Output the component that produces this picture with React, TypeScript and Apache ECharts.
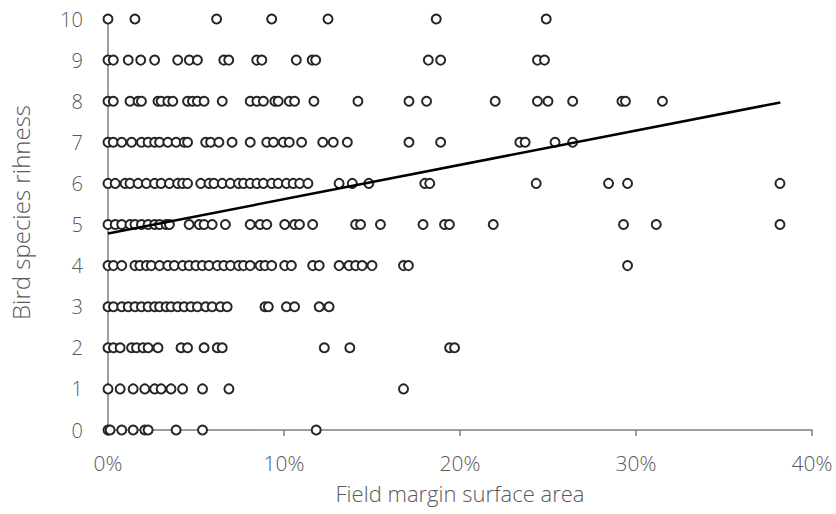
import React, { useEffect, useRef } from "react";
import * as echarts from "echarts";

// x values (% field margin surface area) for each species-richness level
const row10 = [0, 1.53, 6.17, 9.3, 12.5, 18.65, 24.9];
const row9 = [0, 0.3, 1.15, 1.86, 2.65, 3.96, 4.62, 5.08, 6.58, 6.86, 8.45, 8.74, 10.7, 11.6, 11.8, 18.2, 18.9, 24.4, 24.8];
const row8 = [0, 0.3, 1.25, 1.71, 1.9, 2.84, 3.02, 3.4, 3.68, 4.52, 4.8, 5.08, 5.46, 6.49, 8.08, 8.46, 8.83, 9.48, 9.67, 10.3, 10.6, 11.7, 14.2, 17.1, 18.1, 22.0, 24.4, 25.0, 26.4, 29.2, 29.4, 31.5];
const row7 = [0, 0.3, 0.78, 1.34, 1.9, 2.28, 2.65, 2.93, 3.4, 3.87, 4.33, 4.52, 5.55, 5.83, 6.3, 7.05, 8.08, 9.02, 9.4, 9.96, 10.3, 11.0, 12.2, 12.8, 13.6, 17.1, 18.9, 23.4, 23.7, 25.4, 26.4];
const row6 = [0, 0.41, 0.97, 1.25, 1.71, 2.18, 2.65, 3.02, 3.49, 3.96, 4.24, 4.52, 5.27, 5.74, 6.02, 6.49, 6.95, 7.42, 7.7, 8.08, 8.46, 8.83, 9.3, 9.67, 10.14, 10.52, 10.89, 11.36, 13.13, 13.88, 14.82, 18.0, 18.28, 24.33, 28.44, 29.52, 38.18];
const row5 = [0, 0.41, 0.78, 1.25, 1.53, 1.9, 2.28, 2.65, 2.93, 3.3, 3.49, 4.61, 5.18, 5.46, 5.92, 6.67, 8.08, 8.64, 9.02, 10.04, 10.6, 10.88, 11.63, 14.07, 14.35, 15.48, 17.9, 19.12, 19.4, 21.89, 29.29, 31.15, 38.18];
const row4 = [0, 0.31, 0.78, 1.53, 1.81, 2.18, 2.46, 2.93, 3.4, 3.77, 4.24, 4.61, 4.99, 5.36, 5.74, 6.21, 6.58, 6.96, 7.42, 7.7, 8.08, 8.64, 8.92, 9.3, 10.04, 10.42, 11.63, 12.0, 13.13, 13.69, 14.07, 14.44, 15.0, 16.79, 17.07, 29.52];
const row3 = [0, 0.31, 0.78, 1.15, 1.53, 1.9, 2.28, 2.65, 2.93, 3.3, 3.58, 3.96, 4.33, 4.71, 5.08, 5.55, 5.92, 6.39, 6.77, 8.92, 9.11, 10.14, 10.6, 12.0, 12.56];
const row2 = [0, 0.31, 0.69, 1.34, 1.62, 1.99, 2.28, 2.84, 4.15, 4.52, 5.46, 6.21, 6.49, 12.29, 13.74, 19.41, 19.69];
const row1 = [0, 0.69, 1.43, 2.09, 2.65, 3.02, 3.58, 4.24, 5.37, 6.87, 16.79];
const row0 = [0, 0.12, 0.78, 1.43, 2.09, 2.28, 3.87, 5.37, 11.83];

const rows: number[][] = [row0, row1, row2, row3, row4, row5, row6, row7, row8, row9, row10];

// linear trend line endpoints
const trendX = [0, 38.2];
const trendY = [4.78, 7.97];

const xTicks = [0, 10, 20, 30, 40];
const yTicks = [0, 1, 2, 3, 4, 5, 6, 7, 8, 9, 10];

const FONT = "'Open Sans', 'Noto Sans', sans-serif";
const LABEL_COLOR = "#595959";

export default function App() {
  const ref = useRef<HTMLDivElement>(null);
  useEffect(() => {
    document.body.style.margin = "0";
    if (!ref.current) return;
    const chart = echarts.init(ref.current, undefined, { renderer: "svg" });
    const points: number[][] = [];
    rows.forEach((xs, y) => xs.forEach((x) => points.push([x, y])));
    chart.setOption({
      animation: false,
      grid: { left: 100, right: 24, top: 19, bottom: 84, containLabel: false },
      xAxis: {
        type: "value",
        min: xTicks[0],
        max: xTicks[xTicks.length - 1],
        interval: 10,
        name: "Field margin surface area",
        nameLocation: "middle",
        nameGap: 52,
        nameTextStyle: { color: LABEL_COLOR, fontSize: 22, fontFamily: FONT, fontWeight: 300 },
        axisLine: { show: true, lineStyle: { color: "#7f7f7f", width: 1.5 } },
        axisTick: { show: true, length: 6, lineStyle: { color: "#7f7f7f", width: 1.5 } },
        axisLabel: { formatter: "{value}%", color: LABEL_COLOR, fontSize: 21, fontFamily: FONT, fontWeight: 300, margin: 22 },
        splitLine: { show: false },
      },
      yAxis: {
        type: "value",
        min: yTicks[0],
        max: yTicks[yTicks.length - 1],
        interval: 1,
        name: "Bird species rihness",
        nameLocation: "middle",
        nameGap: 76,
        nameTextStyle: { color: LABEL_COLOR, fontSize: 24, fontFamily: FONT, fontWeight: 300, padding: [0, 0, 0, 24] },
        axisLine: { show: true, lineStyle: { color: "#7f7f7f", width: 1.5 } },
        axisTick: { show: false },
        axisLabel: { color: LABEL_COLOR, fontSize: 20, fontFamily: FONT, fontWeight: 300, margin: 25 },
        splitLine: { show: false },
      },
      series: [
        {
          type: "scatter",
          data: points,
          symbol: "circle",
          symbolSize: 9,
          clip: false,
          itemStyle: { color: "#ffffff", borderColor: "#262626", borderWidth: 2, opacity: 1 },
        },
        {
          type: "line",
          data: trendX.map((x, i) => [x, trendY[i]]),
          symbol: "none",
          lineStyle: { color: "#000000", width: 2.5 },
          z: 3,
        },
      ],
    });
    return () => chart.dispose();
  }, []);
  return <div ref={ref} style={{ width: 836, height: 514 }} />;
}
